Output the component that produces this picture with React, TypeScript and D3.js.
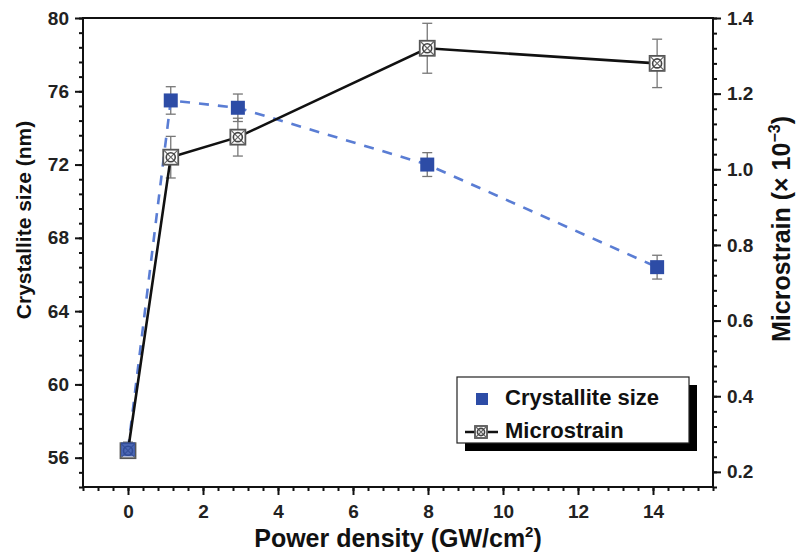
import React, { useRef, useEffect } from 'react';
import * as d3 from 'd3';

const width = 798
const height = 554

// values
const powerDensity = [0, 1.14, 2.93, 7.98, 14.11]
const crystalliteSize = [56.45, 75.5, 75.1, 72.0, 66.4]
const crystalliteErr = [0.4, 0.75, 0.75, 0.65, 0.65]
const microstrain = [0.256, 1.032, 1.085, 1.32, 1.28]
const microstrainErr = [0.012, 0.055, 0.05, 0.066, 0.064]

const xTicks = [0, 2, 4, 6, 8, 10, 12, 14]
const leftTicks = [56, 60, 64, 68, 72, 76, 80]
const rightTicks = [0.2, 0.4, 0.6, 0.8, 1.0, 1.2, 1.4]

const blueMarker = '#2d4ca6'
const blueLine = '#5a7dd4'
const font = '"Liberation Sans", Arial, sans-serif'

const App = () => {
    const ref = useRef(null);

    useEffect(() => {
        if (!ref.current) return;
        const svg = d3.select(ref.current);
        svg.selectAll('*').remove();

        const left = 83, right = 713, top = 18, bottom = 487;

        const x = d3.scaleLinear().domain([-1.2, 15.6]).range([left, right]);
        const yL = d3.scaleLinear().domain([54.4, 80]).range([bottom, top]);
        const yR = d3.scaleLinear().domain([0.16, 1.4]).range([bottom, top]);

        const minor = (a, b, s) => d3.range(Math.round(a / s), Math.round(b / s) + 1).map(i => +(i * s).toFixed(4));

        const styleAxis = (g) => {
            g.select('.domain').remove();
            g.selectAll('line').attr('stroke', '#111').attr('stroke-width', 2);
            g.selectAll('text')
                .style('font-family', font)
                .style('font-weight', 'bold')
                .style('font-size', '19px')
                .attr('fill', '#222');
        };

        // x axis
        svg.append('g')
            .attr('transform', `translate(0, ${bottom})`)
            .call(d3.axisBottom(x).tickValues(minor(-1.2, 15.6, 0.4)).tickSize(4).tickFormat(() => ''))
            .call(styleAxis);
        svg.append('g')
            .attr('transform', `translate(0, ${bottom})`)
            .call(d3.axisBottom(x).tickValues(xTicks).tickSize(8).tickPadding(10).tickFormat(d3.format('d')))
            .call(styleAxis);

        // left axis
        svg.append('g')
            .attr('transform', `translate(${left}, 0)`)
            .call(d3.axisLeft(yL).tickValues(minor(54.4, 80, 0.8)).tickSize(4).tickFormat(() => ''))
            .call(styleAxis);
        svg.append('g')
            .attr('transform', `translate(${left}, 0)`)
            .call(d3.axisLeft(yL).tickValues(leftTicks).tickSize(8).tickPadding(6).tickFormat(d3.format('d')))
            .call(styleAxis);

        // right axis
        svg.append('g')
            .attr('transform', `translate(${right}, 0)`)
            .call(d3.axisRight(yR).tickValues(minor(0.16, 1.4, 0.04)).tickSize(4).tickFormat(() => ''))
            .call(styleAxis);
        svg.append('g')
            .attr('transform', `translate(${right}, 0)`)
            .call(d3.axisRight(yR).tickValues(rightTicks).tickSize(8).tickPadding(6).tickFormat(d3.format('.1f')))
            .call(styleAxis);

        // frame
        svg.append('rect')
            .attr('x', left).attr('y', top)
            .attr('width', right - left).attr('height', bottom - top)
            .attr('fill', 'none').attr('stroke', '#111').attr('stroke-width', 2);

        const data = powerDensity.map((p, i) => ({
            p, cs: crystalliteSize[i], csErr: crystalliteErr[i], ms: microstrain[i], msErr: microstrainErr[i]
        }));

        // error bars
        const errBars = (g, yScale, val, err) => {
            const eb = g.selectAll(null).data(data).enter().append('g')
                .attr('stroke', '#777').attr('stroke-width', 1.3);
            eb.append('line')
                .attr('x1', d => x(d.p)).attr('x2', d => x(d.p))
                .attr('y1', d => yScale(val(d) - err(d))).attr('y2', d => yScale(val(d) + err(d)));
            eb.append('line')
                .attr('x1', d => x(d.p) - 5).attr('x2', d => x(d.p) + 5)
                .attr('y1', d => yScale(val(d) + err(d))).attr('y2', d => yScale(val(d) + err(d)));
            eb.append('line')
                .attr('x1', d => x(d.p) - 5).attr('x2', d => x(d.p) + 5)
                .attr('y1', d => yScale(val(d) - err(d))).attr('y2', d => yScale(val(d) - err(d)));
        };

        const plot = svg.append('g');
        errBars(plot, yR, d => d.ms, d => d.msErr);
        errBars(plot, yL, d => d.cs, d => d.csErr);

        // crystallite dashed line
        plot.append('path')
            .datum(data)
            .attr('d', d3.line().x(d => x(d.p)).y(d => yL(d.cs)))
            .attr('fill', 'none')
            .attr('stroke', blueLine)
            .attr('stroke-width', 2.6)
            .attr('stroke-dasharray', '10,9');

        // microstrain line
        plot.append('path')
            .datum(data)
            .attr('d', d3.line().x(d => x(d.p)).y(d => yR(d.ms)))
            .attr('fill', 'none')
            .attr('stroke', '#111')
            .attr('stroke-width', 2.6);

        const crossMarker = (g, cx, cy, s) => {
            const h = s / 2;
            g.append('rect').attr('x', cx - h).attr('y', cy - h).attr('width', s).attr('height', s)
                .attr('fill', '#fff').attr('stroke', '#555').attr('stroke-width', 1.8);
            g.append('path')
                .attr('d', `M${cx - h},${cy - h}L${cx + h},${cy + h}M${cx + h},${cy - h}L${cx - h},${cy + h}`)
                .attr('stroke', '#666').attr('stroke-width', 1.2);
            g.append('circle').attr('cx', cx).attr('cy', cy).attr('r', h * 0.6)
                .attr('fill', 'none').attr('stroke', '#444').attr('stroke-width', 1.6);
        };

        data.forEach(d => crossMarker(plot, x(d.p), yR(d.ms), 15));

        plot.selectAll('rect.cs').data(data).enter().append('rect')
            .attr('class', 'cs')
            .attr('x', d => x(d.p) - 7).attr('y', d => yL(d.cs) - 7)
            .attr('width', 14).attr('height', 14)
            .attr('fill', blueMarker)
            .attr('fill-opacity', d => d.p === 0 ? 0.85 : 1);

        // legend
        const lg = svg.append('g');
        lg.append('rect').attr('x', 465).attr('y', 385).attr('width', 232).attr('height', 66).attr('fill', '#000');
        lg.append('rect').attr('x', 457).attr('y', 377).attr('width', 232).attr('height', 66)
            .attr('fill', '#fff').attr('stroke', '#222').attr('stroke-width', 1.2);
        lg.append('rect').attr('x', 476).attr('y', 393).attr('width', 12).attr('height', 12).attr('fill', blueMarker);
        lg.append('line').attr('x1', 465).attr('x2', 498).attr('y1', 432).attr('y2', 432)
            .attr('stroke', '#111').attr('stroke-width', 2.4);
        crossMarker(lg, 481, 432, 12);
        lg.selectAll('text').data(['Crystallite size', 'Microstrain']).enter().append('text')
            .attr('x', 505).attr('y', (d, i) => 405 + i * 33)
            .style('font-family', font).style('font-weight', 'bold').style('font-size', '22px')
            .attr('fill', '#111')
            .text(d => d);

        // axis titles
        const xt = svg.append('text')
            .attr('x', 398).attr('y', 547).attr('text-anchor', 'middle')
            .style('font-family', font).style('font-weight', 'bold').style('font-size', '25px')
            .attr('fill', '#111');
        xt.append('tspan').text('Power density (GW/cm');
        xt.append('tspan').attr('dy', -10).style('font-size', '15px').text('2');
        xt.append('tspan').attr('dy', 10).text(')');

        svg.append('text')
            .attr('transform', `translate(31, 220) rotate(-90)`)
            .attr('text-anchor', 'middle')
            .style('font-family', font).style('font-weight', 'bold').style('font-size', '21px')
            .attr('fill', '#111')
            .text('Crystallite size (nm)');

        const rt = svg.append('text')
            .attr('transform', `translate(790, 229) rotate(-90)`)
            .attr('text-anchor', 'middle')
            .style('font-family', font).style('font-weight', 'bold').style('font-size', '25px')
            .attr('fill', '#111');
        rt.append('tspan').text('Microstrain (× 10');
        rt.append('tspan').attr('dy', -10).style('font-size', '16px').text('−3');
        rt.append('tspan').attr('dy', 10).text(')');
    }, []);

    return (
        <svg
            ref={ref}
            width={width}
            height={height}
            style={{ position: 'absolute', left: 0, top: 0, background: '#fff' }}
        />
    );
}

export default App;
